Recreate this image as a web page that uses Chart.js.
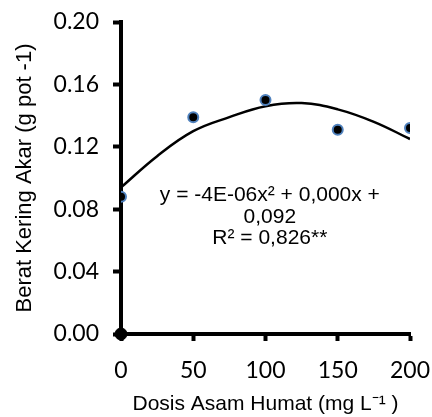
<!DOCTYPE html>
<html>
<head>
<meta charset="utf-8">
<script src="https://cdn.jsdelivr.net/npm/chart.js@4.4.0/dist/chart.umd.min.js"></script>
<style>
  html, body { margin: 0; padding: 0; background: #fff; }
  #wrap { width: 432px; height: 417px; }
</style>
</head>
<body>
<div id="wrap"><canvas id="akar"></canvas></div>
<script>
// observed values
const dosis = [0, 50, 100, 150, 200];
const beratAkar = [0.088, 0.139, 0.150, 0.131, 0.132];

// trend line
const trendX = [0, 25, 50, 75, 100, 125, 150, 175, 200];
const trendY = [0.094, 0.114, 0.130, 0.139, 0.146, 0.148, 0.144, 0.136, 0.125];

const yTicks = [0, 0.04, 0.08, 0.12, 0.16, 0.2];
const xTicks = [0, 50, 100, 150, 200];

const eqLines = ["y = -4E-06x\u00B2 + 0,000x +", "0,092", "R\u00B2 = 0,826**"];

const arial = "'Liberation Sans', Arial, sans-serif";
const calibri = "Lato, 'Open Sans', sans-serif";

// equation text in the middle of the plot
const eqPlugin = {
  id: "eqText",
  afterDatasetsDraw(chart) {
    const ctx = chart.ctx;
    const xs = chart.scales.x;
    const cx = xs.getPixelForValue(103);
    const ys = [195, 217, 238];
    ctx.save();
    ctx.fillStyle = "#000";
    ctx.font = "21px " + arial;
    ctx.textAlign = "center";
    ctx.textBaseline = "middle";
    eqLines.forEach((t, i) => ctx.fillText(t, cx, ys[i]));
    ctx.restore();
  },
};

const akar = document.getElementById("akar").getContext("2d");

let myChartAkar = new Chart(akar, {
  type: "scatter",
  data: {
    datasets: [
      {
        data: dosis.map((d, i) => ({ x: d, y: beratAkar[i] })),
        backgroundColor: "#000",
        borderColor: "#4F81BD",
        borderWidth: 2,
        pointRadius: 5,
        order: 0,
      },
      {
        data: [{ x: 0, y: 0 }],
        backgroundColor: "#000",
        borderColor: "#000",
        pointRadius: 6,
        clip: false,
        order: 0,
      },
      {
        type: "line",
        data: trendX.map((d, i) => ({ x: d, y: trendY[i] })),
        borderColor: "#000",
        borderWidth: 2.5,
        pointRadius: 0,
        fill: false,
        tension: 0.4,
        order: 1,
      },
    ],
  },
  options: {
    responsive: true,
    maintainAspectRatio: false,
    animation: false,
    events: [],
    layout: {
      padding: { top: 22, right: 22, left: 12, bottom: 0 },
    },
    plugins: {
      legend: { display: false },
      tooltip: { enabled: false },
    },
    scales: {
      x: {
        type: "linear",
        min: 0,
        max: 200,
        afterBuildTicks: (s) => { s.ticks = xTicks.map((v) => ({ value: v })); },
        afterFit: (s) => {
          s.height = 83;
          s.paddingLeft = 0;
          s.paddingRight = 0;
        },
        border: { color: "#000", width: 4 },
        grid: { drawOnChartArea: false, tickLength: 7, tickWidth: 4, tickColor: "#000" },
        ticks: { color: "#000", font: { family: calibri, size: 23 }, padding: 16, maxRotation: 0 },
        title: {
          display: true,
          text: "Dosis Asam Humat (mg L\u207B\u00B9 )",
          color: "#000",
          font: { family: arial, size: 21 },
          padding: { top: 0, bottom: 0 },
        },
      },
      y: {
        min: 0,
        max: 0.2,
        afterBuildTicks: (s) => { s.ticks = yTicks.map((v) => ({ value: v })); },
        afterFit: (s) => {
          s.width = 109;
          s.paddingTop = 0;
          s.paddingBottom = 0;
        },
        border: { color: "#000", width: 4 },
        grid: { drawOnChartArea: false, tickLength: 8, tickWidth: 4, tickColor: "#000" },
        ticks: {
          color: "#000",
          font: { family: calibri, size: 23 },
          padding: 14,
          callback: (v) => v.toFixed(2),
        },
        title: {
          display: true,
          text: "Berat Kering Akar (g pot -1)",
          color: "#000",
          font: { family: arial, size: 22 },
          padding: { top: 0, bottom: 0 },
        },
      },
    },
  },
  plugins: [eqPlugin],
});
</script>
</body>
</html>
